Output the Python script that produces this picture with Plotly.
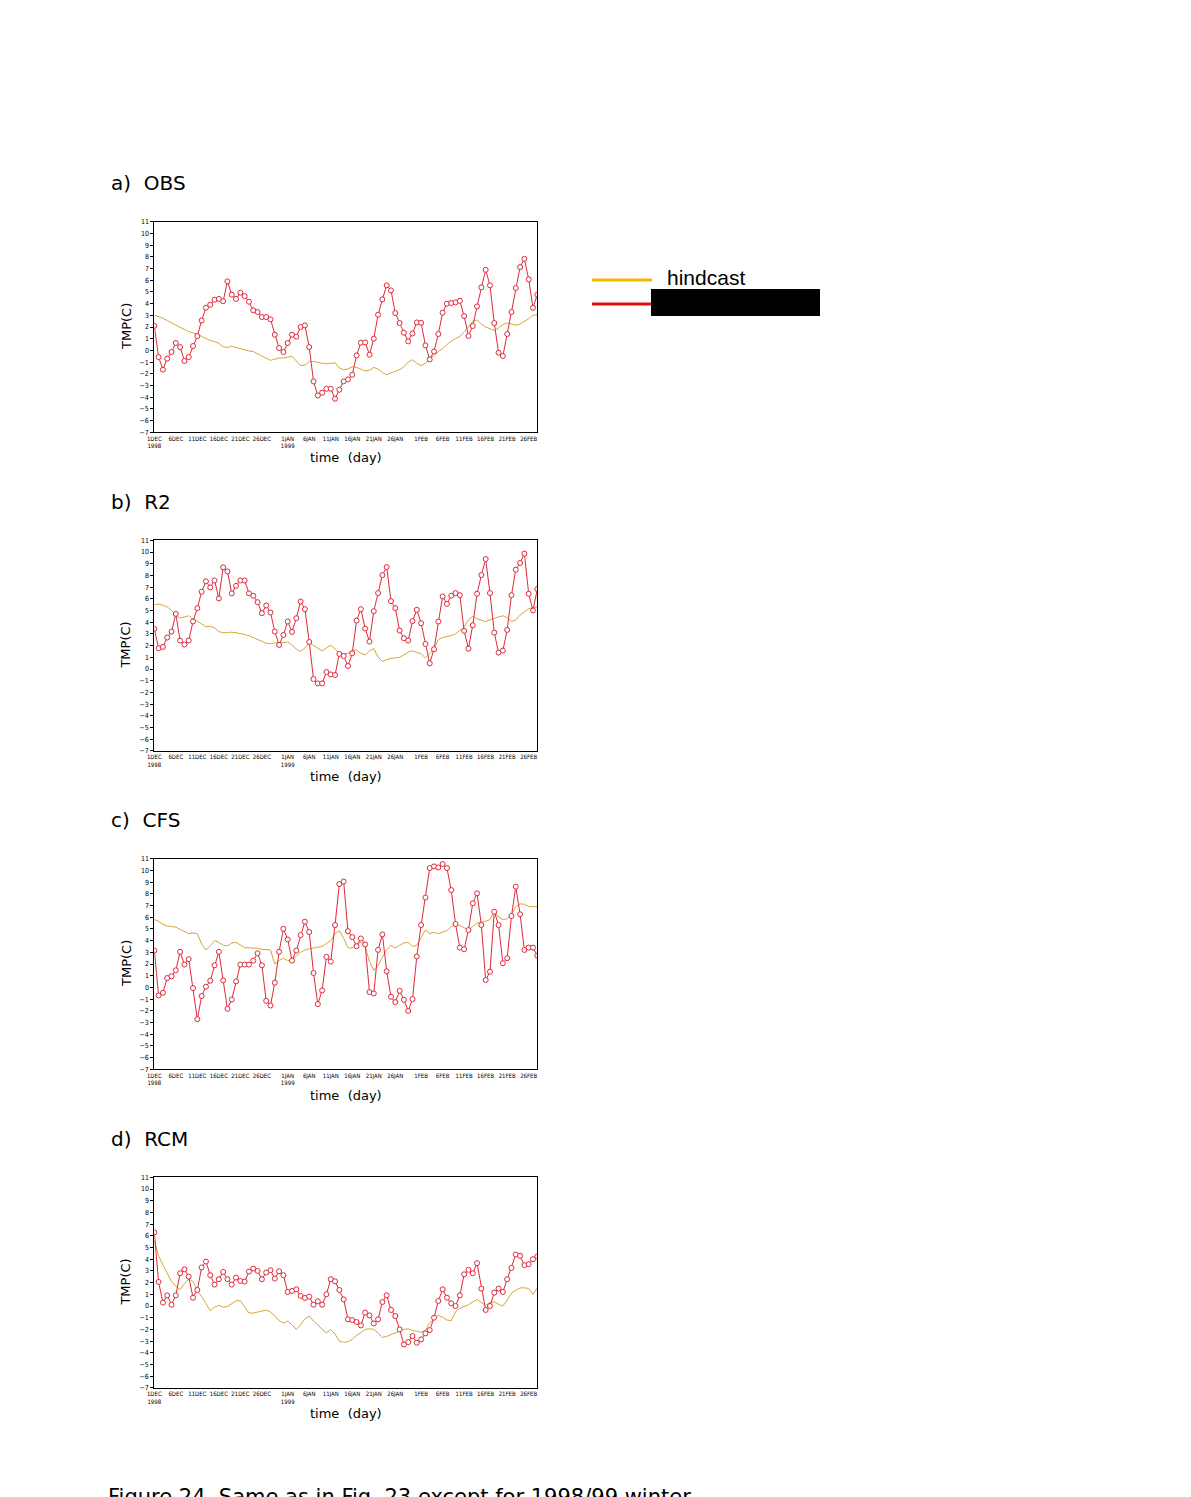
import plotly.graph_objects as go

# ---------------- data (daily, 1 Dec 1998 .. 28 Feb 1999) ----------------
days = list(range(90))

tick_days = [0, 5, 10, 15, 20, 25, 31, 36, 41, 46, 51, 56, 62, 67, 72, 77, 82, 87]
tick_text = ["1DEC<br>1998", "6DEC", "11DEC", "16DEC", "21DEC", "26DEC",
             "1JAN<br>1999", "6JAN", "11JAN", "16JAN", "21JAN", "26JAN",
             "1FEB", "6FEB", "11FEB", "16FEB", "21FEB", "26FEB"]
y_ticks = list(range(-7, 12))

panel_titles = ["a)  OBS", "b)  R2", "c)  CFS", "d)  RCM"]

obs_red = [2.1, -0.57, -1.65, -0.7, -0.14, 0.63, 0.28, -0.9, -0.57, 0.37,
           1.22, 2.56, 3.65, 3.9, 4.33, 4.4, 4.2, 5.9, 4.76, 4.4,
           4.93, 4.64, 4.16, 3.42, 3.28, 2.85, 2.85, 2.65, 1.34, 0.2,
           -0.14, 0.63, 1.34, 1.17, 2.0, 2.14, 0.28, -2.65, -3.85, -3.62,
           -3.28, -3.28, -4.13, -3.36, -2.65, -2.48, -2.08, -0.43, 0.66, 0.68,
           -0.37, 1.0, 3.05, 4.36, 5.56, 5.13, 3.19, 2.34, 1.51, 0.77,
           1.45, 2.39, 2.36, 0.43, -0.77, -0.09, 1.4, 3.22, 3.99, 4.05,
           4.1, 4.24, 2.93, 1.23, 2.08, 3.76, 5.38, 6.89, 5.56, 2.34,
           -0.2, -0.48, 1.4, 3.28, 5.33, 7.12, 7.83, 6.07, 3.65, 4.76]
obs_hind = [3.0, 2.9, 2.75, 2.55, 2.35, 2.15, 1.95, 1.75, 1.6, 1.5,
            1.4, 1.2, 1.0, 0.85, 0.75, 0.6, 0.3, 0.25, 0.35, 0.25,
            0.1, 0.0, -0.05, -0.1, -0.3, -0.5, -0.7, -0.85, -0.75, -0.65,
            -0.65, -0.55, -0.5, -0.9, -1.3, -1.25, -0.95, -0.95, -1.05, -1.1,
            -1.15, -1.1, -1.05, -1.5, -1.65, -1.58, -1.4, -1.45, -1.62, -1.75,
            -1.7, -1.45, -1.6, -1.9, -2.08, -1.9, -1.77, -1.65, -1.4, -1.0,
            -0.8, -1.1, -1.3, -1.1, -0.8, -0.45, -0.1, 0.15, 0.5, 0.8,
            1.0, 1.2, 1.55, 2.0, 2.5, 2.6, 2.25, 2.0, 1.85, 1.7,
            1.9, 2.2, 2.35, 2.25, 2.15, 2.25, 2.45, 2.7, 3.0, 3.05]

r2_red = [3.43, 1.77, 1.89, 2.69, 3.2, 4.71, 2.43, 2.09, 2.43, 4.06,
          5.2, 6.6, 7.49, 6.97, 7.57, 6.03, 8.69, 8.34, 6.46, 7.11,
          7.57, 7.57, 6.46, 6.26, 5.71, 4.77, 5.43, 4.83, 3.2, 2.06,
          2.91, 4.06, 3.17, 4.34, 5.77, 5.11, 2.31, -0.86, -1.23, -1.23,
          -0.26, -0.46, -0.51, 1.29, 1.11, 0.26, 1.34, 4.14, 5.11, 3.46,
          2.34, 4.94, 6.49, 8.03, 8.71, 5.8, 5.2, 3.29, 2.63, 2.43,
          4.09, 5.06, 3.91, 2.14, 0.49, 1.69, 4.06, 6.2, 5.57, 6.26,
          6.49, 6.31, 3.26, 1.74, 3.74, 6.43, 8.03, 9.4, 6.49, 3.11,
          1.4, 1.57, 3.34, 6.31, 8.49, 9.06, 9.86, 6.43, 5.0, 6.83]
r2_hind = [5.5, 5.55, 5.45, 5.3, 5.0, 4.6, 4.35, 4.45, 4.55, 4.25,
           4.1, 3.85, 3.6, 3.65, 3.5, 3.2, 3.1, 3.1, 3.15, 3.1,
           3.05, 2.95, 2.85, 2.7, 2.55, 2.4, 2.2, 2.15, 2.25, 2.2,
           2.25, 2.3, 2.05, 1.7, 1.5, 1.8, 2.25, 2.0, 1.8, 1.55,
           1.8, 2.05, 1.7, 1.35, 1.3, 1.35, 1.6, 1.6, 1.35, 1.2,
           1.55, 1.75, 1.0, 0.65, 0.8, 0.92, 0.95, 1.0, 1.2, 1.45,
           1.55, 1.45, 1.3, 0.95, 1.3, 1.75, 2.5, 2.7, 2.75, 2.85,
           3.0, 3.3, 3.6, 4.2, 4.5, 4.3, 4.15, 4.05, 4.2, 4.35,
           4.45, 4.55, 4.4, 4.05, 4.2, 4.6, 4.85, 5.15, 5.25, 5.3]

cfs_red = [3.15, -0.69, -0.46, 0.8, 0.95, 1.46, 3.04, 1.95, 2.41, -0.06,
           -2.72, -0.74, 0.06, 0.57, 1.89, 3.04, 0.6, -1.83, -1.03, 0.52,
           1.95, 1.95, 1.95, 2.29, 2.92, 1.89, -1.15, -1.55, 0.4, 3.04,
           5.01, 4.1, 2.29, 3.15, 4.47, 5.62, 4.73, 1.23, -1.43, -0.26,
           2.61, 2.21, 5.33, 8.83, 9.05, 4.81, 4.3, 3.52, 4.18, 3.67,
           -0.4, -0.52, 3.21, 4.53, 1.38, -0.8, -1.26, -0.29, -1.06, -2.01,
           -1.0, 2.64, 5.33, 7.68, 10.2, 10.34, 10.25, 10.55, 10.2, 8.32,
           5.42, 3.4, 3.26, 4.9, 7.19, 8.04, 5.33, 0.63, 1.34, 6.47,
           5.33, 2.06, 2.49, 6.1, 8.61, 6.25, 3.2, 3.4, 3.4, 2.71]
cfs_hind = [5.8, 5.65, 5.4, 5.25, 5.2, 5.15, 4.95, 4.8, 4.6, 4.65,
            4.6, 3.7, 3.2, 3.55, 4.0, 3.85, 3.6, 3.55, 3.8, 3.85,
            3.65, 3.4, 3.38, 3.38, 3.35, 3.25, 3.25, 3.2, 2.0, 2.3,
            2.5, 2.3, 2.3, 2.7, 3.0, 3.2, 3.3, 3.35, 3.4, 3.5,
            3.75, 4.0, 4.6, 4.85, 4.2, 3.4, 3.35, 3.7, 3.85, 3.5,
            2.2, 1.45, 1.9, 2.6, 3.2, 3.6, 3.35, 3.6, 3.8, 3.85,
            3.5, 3.6, 4.3, 4.9, 4.6, 4.7, 4.6, 4.7, 4.85, 5.2,
            5.35, 5.3, 5.1, 4.9, 5.2, 5.5, 5.6, 5.65, 5.8, 6.5,
            6.0, 5.8, 5.85, 6.2, 6.9, 7.15, 7.1, 6.9, 6.9, 6.9]

rcm_red = [6.29, 2.06, 0.29, 0.91, 0.11, 0.91, 2.8, 3.14, 2.51, 0.71,
           1.37, 3.29, 3.8, 2.63, 1.83, 2.29, 2.91, 2.29, 1.83, 2.43,
           2.14, 2.09, 2.94, 3.2, 3.0, 2.29, 2.86, 3.06, 2.34, 2.97,
           2.63, 1.2, 1.29, 1.43, 0.86, 0.69, 0.8, 0.11, 0.4, 0.11,
           1.0, 2.29, 2.11, 1.37, 0.57, -1.14, -1.2, -1.37, -1.66, -0.57,
           -0.8, -1.49, -1.14, 0.34, 0.91, -0.34, -0.86, -2.0, -3.29, -3.09,
           -2.57, -3.14, -2.86, -2.34, -2.06, -1.0, 0.43, 1.43, 0.71, 0.23,
           0.0, 0.91, 2.71, 3.09, 2.8, 3.66, 1.49, -0.34, 0.0, 1.14,
           1.49, 1.2, 2.29, 3.26, 4.4, 4.29, 3.49, 3.57, 4.0, 4.23]
rcm_hind = [5.6, 4.3, 3.5, 2.8, 2.1, 1.7, 1.4, 1.9, 2.3, 2.1,
            1.3, 0.8, 0.2, -0.4, -0.1, 0.05, -0.1, -0.05, 0.2, 0.45,
            0.45, -0.1, -0.6, -0.6, -0.5, -0.45, -0.35, -0.5, -0.9, -1.25,
            -1.45, -1.3, -1.6, -2.0, -1.6, -1.1, -0.85, -1.3, -1.6, -2.0,
            -2.3, -2.0, -2.4, -3.0, -3.1, -3.05, -2.85, -2.5, -2.3, -2.0,
            -1.95, -2.0, -2.3, -2.7, -2.6, -2.45, -2.3, -2.2, -2.0, -1.95,
            -2.1, -2.15, -2.25, -2.1, -1.4, -1.2, -0.8, -0.95, -1.2, -1.25,
            -0.5, -0.2, -0.05, 0.1, 0.35, 0.55, 0.3, 0.05, 0.3, 0.35,
            0.15, 0.0, 0.5, 1.1, 1.35, 1.55, 1.55, 1.5, 1.0, 1.55]

red_series = [obs_red, r2_red, cfs_red, rcm_red]
hind_series = [obs_hind, r2_hind, cfs_hind, rcm_hind]

legend_label = "hindcast"
caption = "Figure 24. Same as in Fig. 23 except for 1998/99 winter"

# ---------------- layout helpers (pixel -> paper) ----------------
W, H = 1191, 1497
def px(p):
    return p / W
def py(p):
    return 1 - p / H

ORANGE = "#D6A536"
RED = "#E0283A"
TICK_FONT = dict(family="Liberation Sans Narrow, DejaVu Sans Condensed, Arial Narrow, sans-serif",
                 size=7, color="black")
XTICK_FONT = dict(family="Liberation Sans Narrow, DejaVu Sans Condensed, Arial Narrow, sans-serif",
                  size=6, color="black")

plot_left, plot_right = 154.3, 537.3
tops = [221.7, 540.3, 858.7, 1177.3]
height_px = 210.6

fig = go.Figure()
annotations = []
layout_axes = {}

for i in range(4):
    n = "" if i == 0 else str(i + 1)
    xa, ya = "x" + n, "y" + n
    top = tops[i]
    bot = top + height_px
    fig.add_trace(go.Scatter(x=days, y=hind_series[i], mode="lines",
                             line=dict(color=ORANGE, width=1),
                             xaxis=xa, yaxis=ya, showlegend=False,
                             hoverinfo="skip"))
    fig.add_trace(go.Scatter(x=days, y=red_series[i], mode="lines+markers",
                             line=dict(color=RED, width=1),
                             marker=dict(symbol="circle", size=5, color="white",
                                         line=dict(color=RED, width=1)),
                             xaxis=xa, yaxis=ya, showlegend=False))
    layout_axes["xaxis" + n] = dict(
        domain=[px(plot_left), px(plot_right)], anchor=ya, range=[0, 89],
        tickmode="array", tickvals=tick_days, ticktext=tick_text, tickangle=0,
        ticks="", tickfont=XTICK_FONT,
        showgrid=False, zeroline=False, showline=True, linecolor="black",
        linewidth=1, mirror=True, fixedrange=True, automargin=False)
    layout_axes["yaxis" + n] = dict(
        domain=[py(bot), py(top)], anchor=xa, range=[-7, 11],
        tickmode="array", tickvals=y_ticks,
        ticks="outside", ticklen=3, tickcolor="black", tickfont=TICK_FONT,
        showgrid=False, zeroline=False, showline=True, linecolor="black",
        linewidth=1, mirror=True, fixedrange=True, automargin=False)
    # panel title
    annotations.append(dict(text=panel_titles[i], x=px(109), y=py(top - 38.7),
                            xref="paper", yref="paper", xanchor="left", yanchor="middle",
                            showarrow=False,
                            font=dict(family="DejaVu Sans", size=20, color="black")))
    # y axis label
    annotations.append(dict(text="TMP(C)", x=px(126), y=py((top + bot) / 2),
                            xref="paper", yref="paper", xanchor="center", yanchor="middle",
                            textangle=-90, showarrow=False,
                            font=dict(family="DejaVu Sans", size=13, color="black")))
    # x axis label
    annotations.append(dict(text="time  (day)", x=px(346), y=py(bot + 25.7),
                            xref="paper", yref="paper", xanchor="center", yanchor="middle",
                            showarrow=False,
                            font=dict(family="DejaVu Sans", size=13, color="black")))

# legend (drawn manually) and redaction box
shapes = [
    dict(type="line", xref="paper", yref="paper", x0=px(592), x1=px(652),
         y0=py(280), y1=py(280), line=dict(color="#F5B800", width=3)),
    dict(type="line", xref="paper", yref="paper", x0=px(592), x1=px(652),
         y0=py(304), y1=py(304), line=dict(color="#E01010", width=3)),
    dict(type="rect", xref="paper", yref="paper", x0=px(651), x1=px(820),
         y0=py(316), y1=py(289), fillcolor="black", line=dict(width=0)),
]
annotations.append(dict(text=legend_label, x=px(665), y=py(277), xref="paper", yref="paper",
                        xanchor="left", yanchor="middle", showarrow=False,
                        font=dict(family="Liberation Sans, Arial, sans-serif", size=21,
                                  color="black")))
annotations.append(dict(text=caption, x=px(106), y=py(1483), xref="paper", yref="paper",
                        xanchor="left", yanchor="top", showarrow=False,
                        font=dict(family="DejaVu Sans", size=21, color="black")))

fig.update_layout(width=W, height=H, autosize=False,
                  margin=dict(l=0, r=0, t=0, b=0, pad=0),
                  paper_bgcolor="white", plot_bgcolor="white",
                  showlegend=False, annotations=annotations, shapes=shapes,
                  **layout_axes)

fig.write_html("out.html", config={"displayModeBar": False})
